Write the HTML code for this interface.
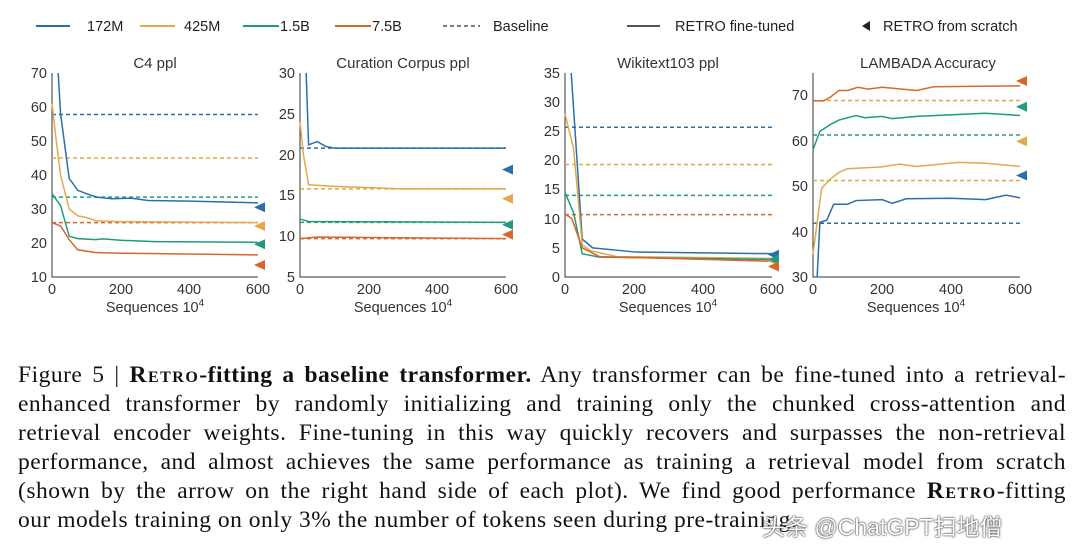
<!DOCTYPE html>
<html><head><meta charset="utf-8"><style>
body{margin:0;width:1080px;height:555px;background:#fff;overflow:hidden;position:relative}
svg{position:absolute;left:0;top:0}
.cap{position:absolute;left:18px;width:1048px;font-family:"Liberation Serif",serif;font-size:23.5px;letter-spacing:0.5px;color:#111;text-align:justify;text-align-last:justify;white-space:nowrap;line-height:29px}
.sc{font-variant:small-caps;font-weight:bold;letter-spacing:1.5px}
</style></head><body>
<svg width="1080" height="340" font-family="Liberation Sans, sans-serif">
<g font-size="14.5" fill="#222">
<line x1="36" y1="26" x2="70" y2="26" stroke="#2a6fa8" stroke-width="2"/><text x="87" y="31">172M</text>
<line x1="140" y1="26" x2="175" y2="26" stroke="#e3a84a" stroke-width="2"/><text x="184" y="31">425M</text>
<line x1="243" y1="26" x2="279" y2="26" stroke="#1f9c80" stroke-width="2"/><text x="280" y="31">1.5B</text>
<line x1="335" y1="26" x2="371" y2="26" stroke="#d8652c" stroke-width="2"/><text x="372" y="31">7.5B</text>
<line x1="443" y1="26" x2="480" y2="26" stroke="#555" stroke-width="1.5" stroke-dasharray="4,3"/><text x="493" y="31">Baseline</text>
<line x1="627" y1="26" x2="660" y2="26" stroke="#555" stroke-width="2"/><text x="675" y="31">RETRO fine-tuned</text>
<polygon points="862,26 870,21 870,31" fill="#222"/><text x="883" y="31">RETRO from scratch</text>
</g>
<g stroke="#333" stroke-width="1" fill="none">
<path d="M52,73V277H258"/><path d="M300,73V277H506"/><path d="M565,73V277H772"/><path d="M813,73V277H1020"/>
</g>
<g font-size="14.5" fill="#333" text-anchor="middle">
<text x="155" y="68" font-size="15">C4 ppl</text><text x="403" y="68" font-size="15">Curation Corpus ppl</text>
<text x="668" y="68" font-size="15">Wikitext103 ppl</text><text x="928" y="68" font-size="15">LAMBADA Accuracy</text>
<text x="52" y="294">0</text><text x="121" y="294">200</text><text x="189" y="294">400</text><text x="258" y="294">600</text>
<text x="300" y="294">0</text><text x="369" y="294">200</text><text x="437" y="294">400</text><text x="506" y="294">600</text>
<text x="565" y="294">0</text><text x="634" y="294">200</text><text x="703" y="294">400</text><text x="772" y="294">600</text>
<text x="813" y="294">0</text><text x="882" y="294">200</text><text x="951" y="294">400</text><text x="1020" y="294">600</text>
<text x="155" y="312">Sequences 10<tspan font-size="10" dy="-6">4</tspan></text>
<text x="403" y="312">Sequences 10<tspan font-size="10" dy="-6">4</tspan></text>
<text x="668" y="312">Sequences 10<tspan font-size="10" dy="-6">4</tspan></text>
<text x="916" y="312">Sequences 10<tspan font-size="10" dy="-6">4</tspan></text>
</g>
<g font-size="14.5" fill="#333" text-anchor="end">
<text x="47" y="78">70</text><text x="47" y="112">60</text><text x="47" y="146">50</text><text x="47" y="180">40</text><text x="47" y="214">30</text><text x="47" y="248">20</text><text x="47" y="282">10</text>
<text x="295" y="78">30</text><text x="295" y="119">25</text><text x="295" y="160">20</text><text x="295" y="200">15</text><text x="295" y="241">10</text><text x="295" y="282">5</text>
<text x="560" y="78">35</text><text x="560" y="107">30</text><text x="560" y="136">25</text><text x="560" y="165">20</text><text x="560" y="194">15</text><text x="560" y="224">10</text><text x="560" y="253">5</text><text x="560" y="282">0</text>
<text x="808" y="100">70</text><text x="808" y="146">60</text><text x="808" y="191">50</text><text x="808" y="237">40</text><text x="808" y="282">30</text>
</g>
<g fill="none" stroke-width="1.5">
<g transform="translate(52,277) scale(0.3433,-3.4) translate(0,-10)">
<path vector-effect="non-scaling-stroke" d="M0,57.8H600" stroke="#2a6fa8" stroke-dasharray="4,3"/>
<path vector-effect="non-scaling-stroke" d="M0,45H600" stroke="#e3a84a" stroke-dasharray="4,3"/>
<path vector-effect="non-scaling-stroke" d="M0,33.5H600" stroke="#1f9c80" stroke-dasharray="4,3"/>
<path vector-effect="non-scaling-stroke" d="M0,26H600" stroke="#d8652c" stroke-dasharray="4,3"/>
<path vector-effect="non-scaling-stroke" stroke="#2a6fa8" d="M18,70L25,58L50,39L75,35.5L100,34.5L130,33.5L175,33L230,33.2L280,32.5L400,32.3L600,31.8"/>
<path vector-effect="non-scaling-stroke" stroke="#e3a84a" d="M0,61L10,52L25,40L50,30L75,28L100,27.5L130,26.5L200,26.3L600,26"/>
<path vector-effect="non-scaling-stroke" stroke="#1f9c80" d="M0,34.5L25,31L50,22L75,21.3L125,21L150,21.2L200,20.8L300,20.4L600,20.2"/>
<path vector-effect="non-scaling-stroke" stroke="#d8652c" d="M0,26L25,25L50,21L75,18L125,17.2L200,17L600,16.5"/>
</g>
<g transform="translate(300,277) scale(0.3433,-8.16) translate(0,-5)">
<path vector-effect="non-scaling-stroke" d="M0,20.8H600" stroke="#2a6fa8" stroke-dasharray="4,3"/>
<path vector-effect="non-scaling-stroke" d="M0,15.8H600" stroke="#e3a84a" stroke-dasharray="4,3"/>
<path vector-effect="non-scaling-stroke" d="M0,11.7H600" stroke="#1f9c80" stroke-dasharray="4,3"/>
<path vector-effect="non-scaling-stroke" d="M0,9.7H600" stroke="#d8652c" stroke-dasharray="4,3"/>
<path vector-effect="non-scaling-stroke" stroke="#2a6fa8" d="M18,30L25,21.2L50,21.6L75,21L100,20.8L600,20.8"/>
<path vector-effect="non-scaling-stroke" stroke="#e3a84a" d="M0,24L10,20L25,16.3L100,16.1L300,15.8L600,15.8"/>
<path vector-effect="non-scaling-stroke" stroke="#1f9c80" d="M0,12.1L25,11.8L600,11.7"/>
<path vector-effect="non-scaling-stroke" stroke="#d8652c" d="M0,9.7L50,9.9L600,9.7"/>
</g>
<g transform="translate(565,277) scale(0.345,-5.829)">
<path vector-effect="non-scaling-stroke" d="M0,25.7H600" stroke="#2a6fa8" stroke-dasharray="4,3"/>
<path vector-effect="non-scaling-stroke" d="M0,19.3H600" stroke="#e3a84a" stroke-dasharray="4,3"/>
<path vector-effect="non-scaling-stroke" d="M0,14H600" stroke="#1f9c80" stroke-dasharray="4,3"/>
<path vector-effect="non-scaling-stroke" d="M0,10.7H600" stroke="#d8652c" stroke-dasharray="4,3"/>
<path vector-effect="non-scaling-stroke" stroke="#2a6fa8" d="M18,35L50,6.5L80,5L150,4.6L200,4.3L600,4"/>
<path vector-effect="non-scaling-stroke" stroke="#e3a84a" d="M0,28L25,22L50,5.5L75,4.5L150,3.5L600,3.2"/>
<path vector-effect="non-scaling-stroke" stroke="#1f9c80" d="M0,14.5L25,11L50,4L100,3.4L600,3"/>
<path vector-effect="non-scaling-stroke" stroke="#d8652c" d="M0,10.8L20,10L50,5L100,3.5L600,2.7"/>
</g>
<g transform="translate(813,277) scale(0.345,-4.55) translate(0,-30)">
<path vector-effect="non-scaling-stroke" d="M0,68.8H600" stroke="#e3a84a" stroke-dasharray="4,3"/>
<path vector-effect="non-scaling-stroke" d="M0,61.2H600" stroke="#1f9c80" stroke-dasharray="4,3"/>
<path vector-effect="non-scaling-stroke" d="M0,51.2H600" stroke="#e3a84a" stroke-dasharray="4,3"/>
<path vector-effect="non-scaling-stroke" d="M0,41.8H600" stroke="#2a6fa8" stroke-dasharray="4,3"/>
<path vector-effect="non-scaling-stroke" stroke="#d8652c" d="M0,68.7L30,68.7L50,69.5L75,71L100,71L130,71.7L160,71.3L200,71.7L300,71L350,71.8L600,72"/>
<path vector-effect="non-scaling-stroke" stroke="#1f9c80" d="M0,58L20,62L50,63.5L75,64.5L125,65.5L150,65L200,65.3L230,64.8L300,65.3L500,66L600,65.5"/>
<path vector-effect="non-scaling-stroke" stroke="#e3a84a" d="M0,35L25,49.5L50,51.5L75,53L100,53.8L200,54.2L250,54.8L300,54.3L420,55.2L500,55L600,54.3"/>
<path vector-effect="non-scaling-stroke" stroke="#2a6fa8" d="M12,30L20,42L40,42.5L60,46L100,46L125,46.8L200,47L230,46.2L270,47.2L400,47.3L500,47L560,48L600,47.4"/>
</g>
</g>
<g>
<polygon points="254,207.3 265,202.3 265,212.3" fill="#2a6fa8"/>
<polygon points="254,226 265,221 265,231" fill="#e3a84a"/>
<polygon points="254,244.3 265,239.3 265,249.3" fill="#1f9c80"/>
<polygon points="254,265 265,260 265,270" fill="#d8652c"/>
<polygon points="502,169.6 513,164.6 513,174.6" fill="#2a6fa8"/>
<polygon points="502,198.7 513,193.7 513,203.7" fill="#e3a84a"/>
<polygon points="502,224.8 513,219.8 513,229.8" fill="#1f9c80"/>
<polygon points="502,234.6 513,229.6 513,239.6" fill="#d8652c"/>
<polygon points="768,254.8 779,249.8 779,259.8" fill="#2a6fa8"/>
<polygon points="768,261.3 779,256.3 779,266.3" fill="#e3a84a"/>
<polygon points="768,259.5 779,254.5 779,264.5" fill="#1f9c80"/>
<polygon points="768,266.5 779,261.5 779,271.5" fill="#d8652c"/>
<polygon points="1016,81 1027,76 1027,86" fill="#d8652c"/>
<polygon points="1016,106.8 1027,101.8 1027,111.8" fill="#1f9c80"/>
<polygon points="1016,141.4 1027,136.4 1027,146.4" fill="#e3a84a"/>
<polygon points="1016,175.5 1027,170.5 1027,180.5" fill="#2a6fa8"/>
</g>
</svg>
<div class="cap" style="top:361px">Figure 5 | <span class="sc">Retro</span><b>-fitting a baseline transformer.</b> Any transformer can be fine-tuned into a retrieval-</div>
<div class="cap" style="top:390px">enhanced transformer by randomly initializing and training only the chunked cross-attention and</div>
<div class="cap" style="top:419px">retrieval encoder weights. Fine-tuning in this way quickly recovers and surpasses the non-retrieval</div>
<div class="cap" style="top:448px">performance, and almost achieves the same performance as training a retrieval model from scratch</div>
<div class="cap" style="top:477px">(shown by the arrow on the right hand side of each plot). We find good performance <span class="sc">Retro</span>-fitting</div>
<div class="cap" style="top:506px;text-align-last:left">our models training on only 3% the number of tokens seen during pre-training.</div>
<div style="position:absolute;left:762px;top:508px;font-family:'Liberation Sans','Noto Sans CJK SC',sans-serif;font-size:23px;color:#fff;text-shadow:0 0 2px #333,0 0 1px #000">头条 @ChatGPT扫地僧</div>
</body></html>
